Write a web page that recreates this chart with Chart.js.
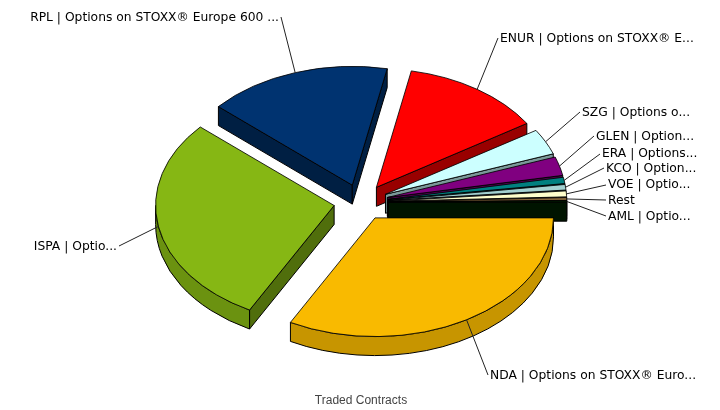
<!DOCTYPE html>
<html>
<head>
<meta charset="utf-8">
<style>
  html, body { margin: 0; background: #fff; }
  #chart { display: block; }
</style>
<script src="https://cdn.jsdelivr.net/npm/chart.js@4"></script>
</head>
<body>
<canvas id="chart" width="720" height="410"></canvas>
<script>
/* data (share of traded contracts, %) */
const labels = ['NDA | Options on STOXX® Euro...', 'ISPA | Optio...', 'RPL | Options on STOXX® Europe 600 ...',
  'ENUR | Options on STOXX® E...', 'SZG | Options o...', 'GLEN | Option...', 'ERA | Options...',
  'KCO | Option...', 'VOE | Optio...', 'Rest', 'AML | Optio...'];
const shares = [32.8, 28.6, 16.6, 12.8, 3.5, 2.55, 0.85, 0.75, 0.8, 0.38, 0.2];
const colors = ['#f9ba00', '#86b714', '#003370', '#ff0000', '#ccffff', '#800080', '#008080', '#a3d1d1', '#ffffcc', '#8a6a3c', '#002200'];
const axisTitle = 'Traded Contracts';

/* layout of the fake 3D */
const SQUASH = 0.665;
const DEPTH = 19;
const EXPLODE = 27.3;
const paintOrder = [2, 3, 4, 5, 6, 7, 8, 9, 10, 1, 0];
// elbow of each leader line, text starts there (same order as labels)
const labelPos = [[488, 375], [119, 246], [281, 17], [498, 38], [580, 112], [594, 136], [600, 154], [604, 168], [606, 185], [606, 200], [606, 216]];
const labelYShift = [1, 1, 1, 1, 1, 1, 0, 1, 0, 1, 1];

function shade(hex, f) {
  const n = parseInt(hex.slice(1), 16);
  const c = [n >> 16, (n >> 8) & 255, n & 255].map((v) => Math.round(v * f));
  return `rgb(${c.join(',')})`;
}

/* centre of an exploded slice on the screen */
function sliceCentre(arc) {
  const h = (arc.startAngle + arc.endAngle) / 2;
  return { x: arc.x + Math.cos(h) * EXPLODE, y: arc.y + Math.sin(h) * EXPLODE * SQUASH };
}

function rimPoint(arc, a) {
  const c = sliceCentre(arc);
  return { x: c.x + Math.cos(a) * arc.outerRadius, y: c.y + Math.sin(a) * arc.outerRadius * SQUASH };
}

function drawRadialWall(ctx, arc, a, color) {
  const c = sliceCentre(arc);
  const p = rimPoint(arc, a);
  ctx.beginPath();
  ctx.moveTo(c.x, c.y);
  ctx.lineTo(p.x, p.y);
  ctx.lineTo(p.x, p.y + DEPTH);
  ctx.lineTo(c.x, c.y + DEPTH);
  ctx.closePath();
  ctx.fillStyle = color;
  ctx.fill();
  ctx.stroke();
}

function drawOuterWall(ctx, arc, color) {
  const s = Math.max(arc.startAngle, 0);
  const e = Math.min(arc.endAngle, Math.PI);
  if (e <= s) return;
  const c = sliceCentre(arc);
  const rx = arc.outerRadius;
  const ry = rx * SQUASH;
  ctx.beginPath();
  ctx.ellipse(c.x, c.y, rx, ry, 0, s, e);
  ctx.ellipse(c.x, c.y + DEPTH, rx, ry, 0, e, s, true);
  ctx.closePath();
  ctx.fillStyle = color;
  ctx.fill();
  ctx.stroke();
}

const pie3d = {
  id: 'pie3d',
  beforeDatasetsDraw(chart) {
    const ctx = chart.ctx;
    const arcs = chart.getDatasetMeta(0).data;
    ctx.save();
    ctx.strokeStyle = '#000';
    ctx.lineWidth = 1;
    ctx.lineJoin = 'round';
    paintOrder.forEach((i) => {
      const arc = arcs[i];
      // only the walls turned towards the viewer
      if (Math.cos(arc.startAngle) < 0) drawRadialWall(ctx, arc, arc.startAngle, shade(colors[i], 0.6));
      if (Math.cos(arc.endAngle) > 0) drawRadialWall(ctx, arc, arc.endAngle, shade(colors[i], 0.6));
      drawOuterWall(ctx, arc, shade(colors[i], 0.8));
      // top face: the library's own arc, squashed and moved out
      const c = sliceCentre(arc);
      ctx.save();
      ctx.translate(c.x, c.y);
      ctx.scale(1, SQUASH);
      ctx.translate(-arc.x, -arc.y);
      arc.draw(ctx);
      ctx.restore();
    });
    ctx.restore();
    return false;
  },
  // afterDatasetsDraw is skipped once the hook above returns false
  afterDraw(chart) {
    const ctx = chart.ctx;
    const arcs = chart.getDatasetMeta(0).data;
    ctx.save();
    ctx.font = '12.3px "DejaVu Sans"';
    ctx.fillStyle = '#000';
    ctx.strokeStyle = '#222';
    ctx.lineWidth = 1;
    ctx.textBaseline = 'middle';
    labels.forEach((text, i) => {
      const arc = arcs[i];
      const p = rimPoint(arc, (arc.startAngle + arc.endAngle) / 2);
      const [lx, ly] = labelPos[i];
      const left = lx < p.x;
      ctx.beginPath();
      ctx.moveTo(p.x, p.y);
      ctx.lineTo(lx, ly);
      ctx.stroke();
      ctx.textAlign = left ? 'right' : 'left';
      ctx.fillText(text, lx + (left ? -2 : 2), ly + labelYShift[i]);
    });
    ctx.restore();
  },
};

new Chart(document.getElementById('chart'), {
  type: 'pie',
  data: {
    labels,
    datasets: [{ data: shares, backgroundColor: colors, borderColor: '#000', borderWidth: 1 }],
  },
  options: {
    responsive: false,
    animation: false,
    events: [],
    rotation: 90,
    radius: 178.5,
    layout: { padding: { top: 11, bottom: 2, left: 2, right: 0 } },
    plugins: {
      legend: { display: false },
      tooltip: { enabled: false },
      title: {
        display: true,
        position: 'bottom',
        text: axisTitle,
        color: '#444',
        padding: 0,
        font: { family: '"Liberation Sans"', size: 12, weight: 'normal' },
      },
    },
  },
  plugins: [pie3d],
});
</script>
</body>
</html>
